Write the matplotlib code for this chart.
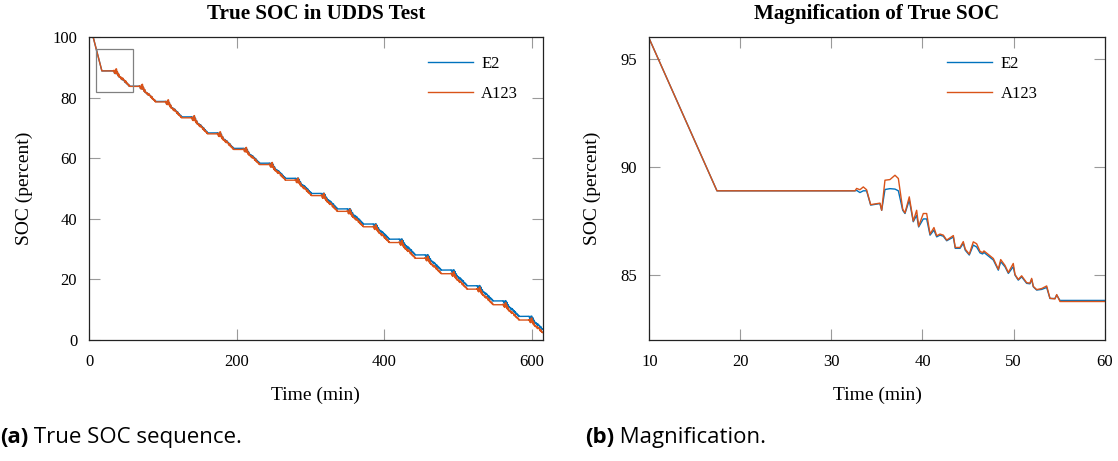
import matplotlib
matplotlib.use("Agg")
import matplotlib.pyplot as plt
import numpy as np
from matplotlib.patches import Rectangle

# ---------------- data ----------------
series_names = ["E2", "A123"]
series_colors = ["#0072BD", "#D95319"]

# initial part: rest at 100 %, constant-current discharge, rest
init_t = [0.0, 5.7, 17.43]
init_e2 = [100.0, 100.0, 88.9]
init_a123 = [100.0, 100.0, 88.9]

# first UDDS drive (absolute minutes)
drive_t = [32.59, 32.77, 33.13, 33.5, 33.86, 34.31, 35.33, 35.52, 35.88, 36.43,
           36.98, 37.35, 37.83, 38.08, 38.55, 38.99, 39.36, 39.58, 40.09, 40.46,
           40.83, 41.26, 41.56, 41.92, 42.29, 42.66, 43.39, 43.6, 44.12, 44.48,
           44.7, 45.14, 45.58, 45.95, 46.32, 46.6, 46.75, 47.78, 48.33, 48.59,
           49.06, 49.43, 49.97, 50.16, 50.52, 50.89, 51.44, 51.8, 51.99, 52.17,
           52.54, 53.09, 53.64, 54.0, 54.55, 54.74, 55.1]
drive_e2 = [88.9, 88.92, 88.82, 88.9, 88.9, 88.24, 88.31, 88.0, 88.96, 89.0,
            88.98, 88.9, 88.0, 87.85, 88.47, 87.47, 87.77, 87.23, 87.6, 87.6,
            86.85, 87.08, 86.77, 86.85, 86.8, 86.59, 86.76, 86.24, 86.24, 86.47,
            86.15, 85.93, 86.39, 86.3, 86.03, 85.98, 86.05, 85.7, 85.23, 85.62,
            85.39, 85.08, 85.39, 85.0, 84.77, 84.92, 84.62, 84.6, 84.8, 84.46,
            84.31, 84.34, 84.43, 83.92, 83.92, 84.08, 83.83]
drive_a123 = [88.9, 89.01, 88.95, 89.08, 88.95, 88.26, 88.33, 88.0, 89.39, 89.42,
              89.62, 89.47, 88.05, 87.88, 88.62, 87.5, 88.0, 87.26, 87.85, 87.85,
              86.9, 87.2, 86.82, 86.9, 86.85, 86.62, 86.83, 86.28, 86.28, 86.55,
              86.2, 85.97, 86.54, 86.45, 86.1, 86.04, 86.12, 85.77, 85.27, 85.72,
              85.45, 85.12, 85.54, 85.03, 84.8, 84.97, 84.65, 84.63, 84.85, 84.48,
              84.33, 84.38, 84.5, 83.93, 83.9, 84.1, 83.78]

# start time of every UDDS drive and the rest level reached after it
cycle_start = [32.59, 67.8, 103.0, 138.2, 173.4, 208.6, 243.7, 278.9, 314.0,
               349.2, 384.3, 419.5, 454.6, 489.8, 524.9, 560.1, 595.2]
plateau_e2 = [83.83, 78.8, 73.7, 68.4, 63.3, 58.4, 53.4, 48.4, 43.3, 38.3,
              33.3, 28.1, 23.1, 17.9, 12.9, 7.8, 2.7]
plateau_a123 = [83.78, 78.65, 73.4, 68.1, 62.95, 57.95, 52.8, 47.7, 42.5, 37.4,
                32.2, 27.0, 21.9, 16.8, 11.65, 6.6, 1.6]
t_end = 614.5

x1_ticks = [0, 200, 400, 600]
y1_ticks = [0, 20, 40, 60, 80, 100]
x2_ticks = [10, 20, 30, 40, 50, 60]
y2_ticks = [85, 90, 95]
zoom_box = (10, 82, 60, 96)  # t0, soc0, t1, soc1


def build_series(drive_vals, plateaus, init_vals):
    t_all = list(init_t)
    v_all = list(init_vals)
    base = drive_vals[0]
    drop = base - drive_vals[-1]
    rel_t = np.array(drive_t) - drive_t[0]
    rel_d = (base - np.array(drive_vals)) / drop
    start_lvl = base
    for k, t0 in enumerate(cycle_start):
        end_lvl = plateaus[k]
        tt = t0 + rel_t
        vv = start_lvl - rel_d * (start_lvl - end_lvl)
        for a, b in zip(tt, vv):
            if a <= t_end:
                t_all.append(a)
                v_all.append(b)
        start_lvl = end_lvl
    if t_all[-1] < t_end:
        t_all.append(t_end)
        v_all.append(v_all[-1])
    return np.array(t_all), np.array(v_all)


t_e2, v_e2 = build_series(drive_e2, plateau_e2, init_e2)
t_a1, v_a1 = build_series(drive_a123, plateau_a123, init_a123)

# ---------------- figure ----------------
W, H = 1118, 461
fig = plt.figure(figsize=(W / 100, H / 100), dpi=100)
serif = ["Liberation Serif", "DejaVu Serif"]

ax1 = fig.add_axes([89 / W, 1 - 340 / H, 453.7 / W, 302.7 / H])
ax2 = fig.add_axes([649.3 / W, 1 - 340 / H, 455.3 / W, 302.7 / H])

lw = 1.0
leg_anchor = {0: (0.747, 0.938), 1: (0.654, 0.938)}
titles = ["True SOC in UDDS Test", "Magnification of True SOC"]
for i, ax in enumerate((ax1, ax2)):
    ax.plot(t_e2, v_e2, color=series_colors[0], lw=lw, label=series_names[0])
    ax.plot(t_a1, v_a1, color=series_colors[1], lw=lw, label=series_names[1])
    ax.tick_params(direction="in", length=8, width=0.8, color="#9a9a9a",
                   top=True, right=True, labelsize=12)
    ax.tick_params(axis="x", pad=10)
    ax.tick_params(axis="y", pad=8.5)
    for sp in ax.spines.values():
        sp.set_linewidth(0.9)
        sp.set_color("#222222")
    ax.set_xlabel("Time (min)", fontsize=14, family=serif, labelpad=12)
    ax.set_ylabel("SOC (percent)", fontsize=14, family=serif, labelpad=14)
    ax.set_title(titles[i], fontsize=15.2, fontweight="bold", family=serif, pad=13.5)
    ax.legend(loc="upper left", frameon=False, borderpad=0, borderaxespad=0,
              bbox_to_anchor=leg_anchor[i], handlelength=2.7, handletextpad=0.5,
              labelspacing=0.85, prop={"family": serif, "size": 12})

ax1.set_xlim(0, t_end)
ax1.set_ylim(0, 100)
ax1.set_xticks(x1_ticks)
ax1.set_yticks(y1_ticks)
ax1.add_patch(Rectangle((zoom_box[0], zoom_box[1]), zoom_box[2] - zoom_box[0],
                        zoom_box[3] - zoom_box[1], fill=False,
                        edgecolor="#808080", lw=0.9, zorder=5))

ax2.set_xlim(zoom_box[0], zoom_box[2])
ax2.set_ylim(zoom_box[1], zoom_box[3])
ax2.set_xticks(x2_ticks)
ax2.set_yticks(y2_ticks)
for ax in (ax1, ax2):
    for lab in ax.get_xticklabels() + ax.get_yticklabels():
        lab.set_family(serif)

# captions
cap_font = ["Open Sans", "DejaVu Sans"]
captions = [(0, "(a)", " True SOC sequence."), (585, "(b)", " Magnification.")]
fig.canvas.draw()
renderer = fig.canvas.get_renderer()
for x0, bold, rest in captions:
    tb = fig.text(x0 / W, 1 - 437 / H, bold, fontsize=16, fontweight="bold",
                  family=cap_font, va="center", ha="left")
    bb = tb.get_window_extent(renderer)
    fig.text(bb.x1 / W, 1 - 437 / H, rest, fontsize=16, family=cap_font,
             va="center", ha="left")

fig.savefig("out.png", dpi=100)
